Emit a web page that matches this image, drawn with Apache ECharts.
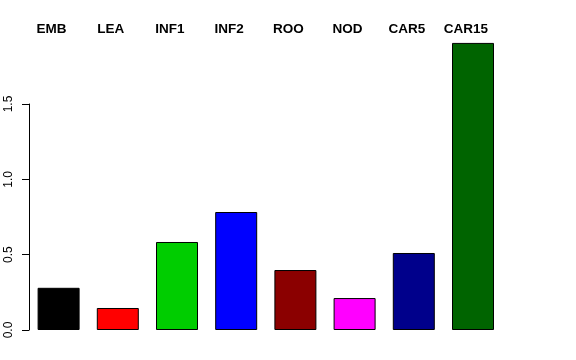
<!DOCTYPE html>
<html>
<head>
<meta charset="utf-8">
<script src="https://cdn.jsdelivr.net/npm/echarts@6/dist/echarts.min.js"></script>
<style>html,body{margin:0;padding:0;background:#fff;}#c{width:576px;height:360px;}</style>
</head>
<body>
<div id="c"></div>
<script>
var categories = ['EMB', 'LEA', 'INF1', 'INF2', 'ROO', 'NOD', 'CAR5', 'CAR15'];
var values = [0.28, 0.146, 0.584, 0.783, 0.398, 0.212, 0.511, 1.905];
var barColors = ['#000000', '#FF0000', '#00CD00', '#0000FF', '#8B0000', '#FF00FF', '#00008B', '#006400'];
var yTicks = [0, 0.5, 1.0, 1.5];

var chart = echarts.init(document.getElementById('c'), null, {renderer: 'canvas'});
var font = 'Liberation Sans, Arial, Helvetica, sans-serif';
chart.setOption({
  animation: false,
  backgroundColor: '#ffffff',
  grid: [
    {left: 29, top: 28.6, width: 473.6, height: 301.4},
    {left: 29, top: 104, width: 473.6, height: 226}
  ],
  xAxis: [
    {gridIndex: 0, type: 'category', data: categories, position: 'top',
     axisLine: {show: false}, axisTick: {show: false},
     axisLabel: {margin: -8, padding: [0, 14, 0, 0], fontFamily: font, fontWeight: 'bold', fontSize: 13.5, color: '#000'}},
    {gridIndex: 1, type: 'category', data: categories, show: false}
  ],
  yAxis: [
    {gridIndex: 0, type: 'value', min: 0, max: 2, show: false},
    {gridIndex: 1, type: 'value', min: yTicks[0], max: yTicks[yTicks.length - 1], interval: 0.5,
     axisLine: {show: true, lineStyle: {color: '#000', width: 1}},
     axisTick: {show: true, inside: false, length: 7, lineStyle: {color: '#000', width: 1}},
     splitLine: {show: false},
     axisLabel: {rotate: 90, margin: 14.5, fontFamily: font, fontSize: 12, color: '#000',
       formatter: function (v) { return v.toFixed(1); }}}
  ],
  series: [{
    type: 'bar', xAxisIndex: 0, yAxisIndex: 0,
    barWidth: 42,
    data: values.map(function (v, i) {
      return {value: v, itemStyle: {color: barColors[i], borderColor: '#000', borderWidth: 1}};
    })
  }]
});
</script>
</body>
</html>
